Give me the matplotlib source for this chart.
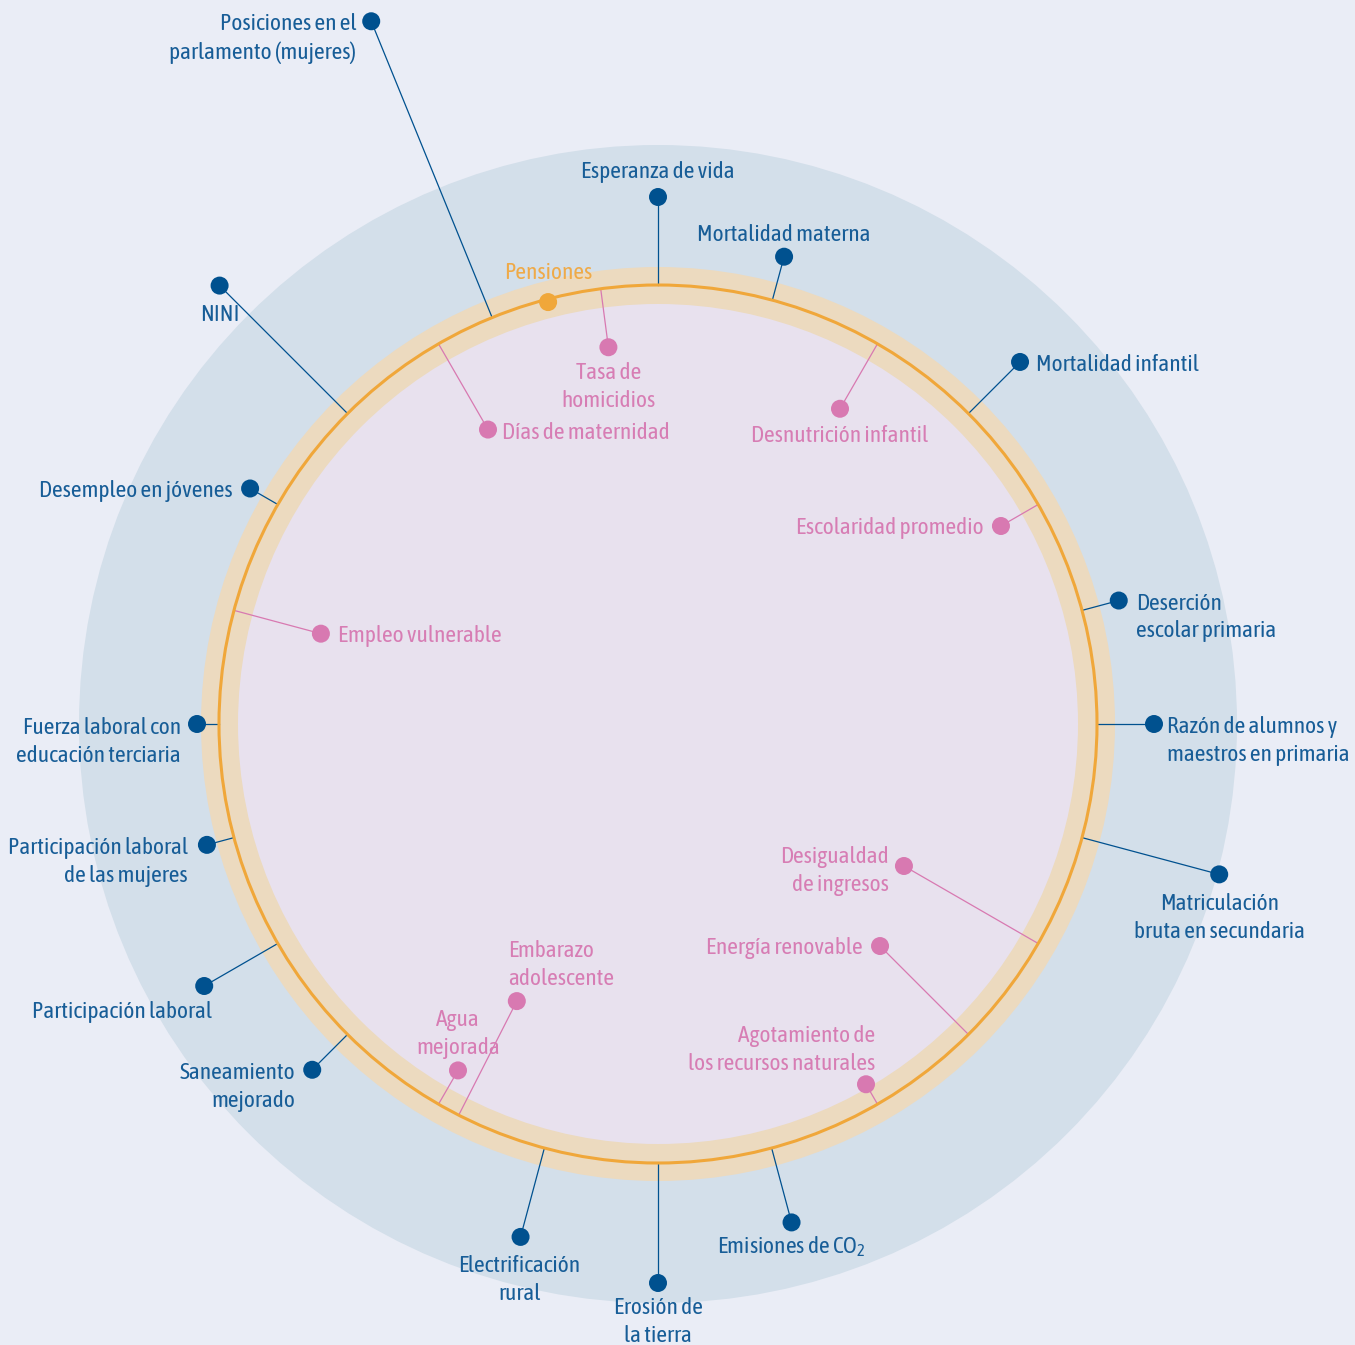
import numpy as np
import matplotlib.pyplot as plt
from matplotlib import font_manager
from matplotlib.patches import Circle

# the reference uses a condensed sans; take the narrowest one installed, else Roboto
narrow = [f for f in font_manager.fontManager.ttflist
          if ('Narrow' in f.name or 'Condensed' in f.name or 'condensed' in str(f.stretch))
          and f.style == 'normal' and str(f.weight) in ('300', '400', 'normal', 'light', 'regular')]
narrow.sort(key=lambda f: (str(f.weight) not in ('300', 'light'), f.name))
if narrow:
    font_name, font_stretch = narrow[0].name, narrow[0].stretch
else:
    font_name, font_stretch = 'Roboto', 'normal'
plt.rcParams['font.family'] = [font_name, 'DejaVu Sans']
plt.rcParams['font.stretch'] = font_stretch
plt.rcParams['mathtext.fontset'] = 'custom'
plt.rcParams['mathtext.rm'] = font_name

# indicators outside the ring (blue): angle in degrees, distance of dot from centre
outer_labels = [
    'Posiciones en el\nparlamento (mujeres)', 'Esperanza de vida', 'Mortalidad materna',
    'Mortalidad infantil', 'Deserción\nescolar primaria', 'Razón de alumnos y\nmaestros en primaria',
    'Matriculación\nbruta en secundaria', 'Emisiones de CO$_2$', 'Erosión de\nla tierra',
    'Electrificación\nrural', 'Saneamiento\nmejorado', 'Participación laboral',
    'Participación laboral\nde las mujeres', 'Fuerza laboral con\neducación terciaria',
    'Desempleo en jóvenes', 'NINI',
]
outer_angles = [112.2, 90, 74.9, 45, 15, 0, -15, -75, -90, -105, -135, -150, -165, 180, 150, 135]
outer_radii = [759, 527, 484, 512, 477, 496, 581, 516, 559, 531, 489, 524, 467, 461, 471, 620]

# indicators inside the ring (pink)
inner_labels = [
    'Tasa de\nhomicidios', 'Días de maternidad', 'Desnutrición infantil', 'Escolaridad promedio',
    'Empleo vulnerable', 'Desigualdad\nde ingresos', 'Energía renovable',
    'Agotamiento de\nlos recursos naturales', 'Embarazo\nadolescente', 'Agua\nmejorada',
]
inner_angles = [97.5, 120, 60, 30, 165, -30, -45, -60, -117, -120]
inner_radii = [380, 340, 364, 396, 349, 284, 314, 416, 311, 400]

# indicator sitting on the ring (orange)
ring_label = 'Pensiones'
ring_angle = 104.6

# label placement relative to each dot (pixels, y down) and alignment
outer_offsets = [(-15, 15, 'right'), (0, -27, 'center'), (0, -24, 'center'), (16, 1, 'left'),
                 (17, 15, 'left'), (13, 15, 'left'), (0, 42, 'center'), (0, 22, 'center'),
                 (0, 37, 'center'), (-1, 41, 'center'), (-17, 15, 'right'), (8, 24, 'right'),
                 (-19, 15, 'right'), (-16, 16, 'right'), (-17, 0, 'right'), (0, 27, 'center')]
inner_offsets = [(0, 38, 'center'), (14, 1, 'left'), (0, 25, 'center'), (-17, 0, 'right'),
                 (17, 0, 'left'), (-15, 3, 'right'), (-17, 0, 'right'), (9, -36, 'right'),
                 (-9, -38, 'left'), (0, -38, 'center')]

cx, cy = 658, 724
ring_r = 439
dot_r = 9
text_nudge = 2

bg = '#eaedf6'
blue_disk = '#d3dfea'
beige = '#ecdabf'
inner_fill = '#e8e1ee'
orange = '#f0a73a'
dark_blue = '#00518f'
blue_text = '#175d97'
pink = '#d879b1'
pink_text = '#d77db4'

fig = plt.figure(figsize=(13.55, 13.45), dpi=100, facecolor=bg)
ax = fig.add_axes([0, 0, 1, 1])
ax.set_xlim(0, 1355)
ax.set_ylim(1345, 0)
ax.set_aspect('equal')
ax.axis('off')

# size the font so 'Esperanza de vida' is as wide as in the reference (~154 px),
# and the line gap of two-line labels ~28.5 px
renderer = fig.canvas.get_renderer()
probe = ax.text(0, 0, 'Esperanza de vida', fontsize=16)
fs = 16 * 154 / probe.get_window_extent(renderer).width
probe.remove()
one = ax.text(0, 0, 'Ag', fontsize=fs, linespacing=1.2)
two = ax.text(0, 0, 'Ag\nAg', fontsize=fs, linespacing=1.2)
gap = two.get_window_extent(renderer).height - one.get_window_extent(renderer).height
ls = 1.2 * 28.5 / gap
one.remove()
two.remove()

ax.add_patch(Circle((cx, cy), 579, color=blue_disk, lw=0, zorder=1))
ax.add_patch(Circle((cx, cy), 457, color=beige, lw=0, zorder=2))
ax.add_patch(Circle((cx, cy), 420, color=inner_fill, lw=0, zorder=3))
ax.add_patch(Circle((cx, cy), ring_r, fill=False, ec=orange, lw=2.2, zorder=5))


def polar(r, a):
    t = np.radians(a)
    return cx + r * np.cos(t), cy - r * np.sin(t)


def draw_group(labels, angles, radii, offsets, color, tcolor):
    for lab, a, r, (dx, dy, ha) in zip(labels, angles, radii, offsets):
        x0, y0 = polar(ring_r, a)
        x1, y1 = polar(r, a)
        ax.plot([x0, x1], [y0, y1], color=color, lw=0.9, zorder=4)
        ax.add_patch(Circle((x1, y1), dot_r, color=color, lw=0, zorder=6))
        ax.text(x1 + dx, y1 + dy + text_nudge, lab, ha=ha, va='center', ma=ha, color=tcolor,
                fontsize=fs, linespacing=ls, zorder=7)


draw_group(outer_labels, outer_angles, outer_radii, outer_offsets, dark_blue, blue_text)
draw_group(inner_labels, inner_angles, inner_radii, inner_offsets, pink, pink_text)

px, py = polar(ring_r - 3, ring_angle)
ax.add_patch(Circle((px, py), dot_r, color=orange, lw=0, zorder=6))
ax.text(px, py - 31 + text_nudge, ring_label, ha='center', va='center', color='#efaa48',
        fontsize=fs, zorder=7)

fig.savefig('out.png', dpi=100, facecolor=bg)
